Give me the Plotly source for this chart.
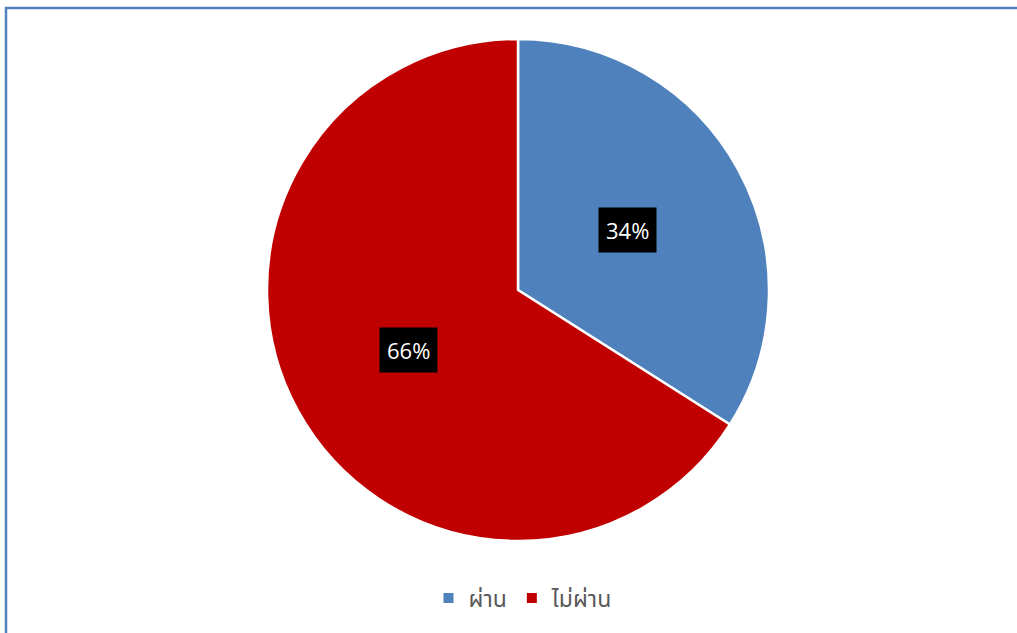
import math
import plotly.graph_objects as go

categories = ["ผ่าน", "ไม่ผ่าน"]
values = [34, 66]
colors = ["#4F81BD", "#C00000"]

W, H = 1017, 633
ml, mr, mt, mb = 19, 0, 39, 92
pw, ph = W - ml - mr, H - mt - mb
R = min(pw, ph) / 2

fig = go.Figure(go.Pie(
    labels=categories, values=values, sort=False, direction="clockwise", rotation=0,
    marker=dict(colors=colors, line=dict(color="white", width=2.5)),
    textinfo="none", hoverinfo="label+percent",
))

total = sum(values)
cum = 0
for v in values:
    mid = (cum + v / 2) / total * 2 * math.pi
    cum += v
    dx = 0.5 * R * math.sin(mid)
    dy = 0.5 * R * math.cos(mid)
    fig.add_annotation(
        x=0.5 + dx / pw, y=0.5 + dy / ph, xref="paper", yref="paper",
        text=f"{round(v / total * 100)}%", showarrow=False,
        font=dict(family="Open Sans, Noto Sans, sans-serif", size=22, color="white"),
        bgcolor="black", borderpad=7,
    )

fig.add_shape(type="rect", xref="paper", yref="paper",
              x0=(6 - ml) / pw, x1=1.05, y0=-0.3, y1=(H - 8 - mb) / ph,
              line=dict(color="#4F81BD", width=2.5), fillcolor="rgba(0,0,0,0)")

fig.update_layout(
    width=W, height=H, margin=dict(l=ml, r=mr, t=mt, b=mb),
    paper_bgcolor="white", plot_bgcolor="white",
    showlegend=True,
    legend=dict(orientation="h", x=(523 - ml) / pw, xanchor="center", y=(H - 598 - mb) / ph, yanchor="middle",
                font=dict(family="Noto Sans Thai, Noto Sans, sans-serif", size=23, color="#595959"),
                itemsizing="constant"),
)

fig.write_html("out.html")
